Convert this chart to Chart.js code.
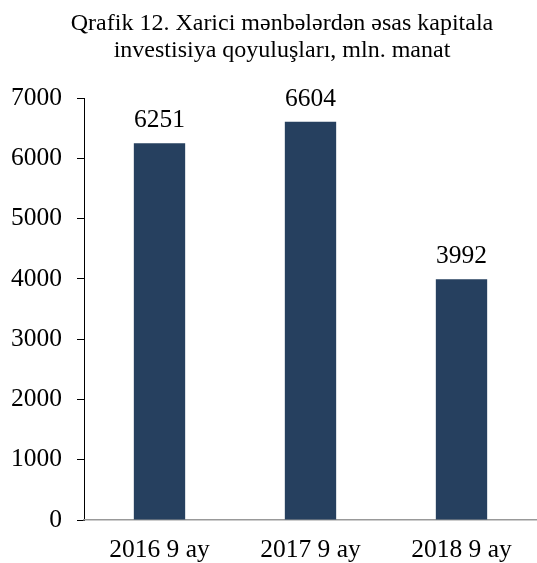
<!DOCTYPE html>
<html><head><meta charset="utf-8">
<script src="https://cdn.jsdelivr.net/npm/chart.js@4/dist/chart.umd.min.js"></script>
<style>html,body{margin:0;padding:0;background:#fff}#wrap{width:537px;height:563px}</style>
</head><body><div id="wrap"><canvas id="c" width="537" height="563"></canvas></div>
<script>
const titleLines = ["Qrafik 12. Xarici mənbələrdən əsas kapitala", "investisiya qoyuluşları, mln. manat"];
const categories = ["2016 9 ay", "2017 9 ay", "2018 9 ay"];
const values = [6251, 6604, 3992];
const yTicks = [0, 1000, 2000, 3000, 4000, 5000, 6000, 7000];
const SERIF = "'Liberation Serif','Times New Roman',serif";

const labelPlugin = {
  id: 'barLabels',
  afterDatasetsDraw(chart) {
    const ctx = chart.ctx;
    const meta = chart.getDatasetMeta(0);
    ctx.save();
    ctx.font = "25.5px " + SERIF;
    ctx.fillStyle = '#000';
    ctx.textAlign = 'center';
    ctx.textBaseline = 'alphabetic';
    meta.data.forEach((bar, i) => {
      ctx.fillText(String(values[i]), bar.x, bar.y - 16);
    });
    ctx.restore();
  }
};

const titlePlugin = {
  id: 'twoLineTitle',
  afterDraw(chart) {
    const ctx = chart.ctx;
    ctx.save();
    ctx.font = "24px " + SERIF;
    ctx.fillStyle = '#000';
    ctx.textAlign = 'center';
    ctx.textBaseline = 'alphabetic';
    titleLines.forEach((t, i) => ctx.fillText(t, 282, 30 + i * 27));
    ctx.restore();
  }
};

new Chart(document.getElementById('c'), {
  type: 'bar',
  data: { labels: categories, datasets: [{ data: values, backgroundColor: '#26405F', categoryPercentage: 1, barPercentage: 0.34 }] },
  options: {
    responsive: false, animation: false,
    layout: { padding: { left: 0, right: 0, top: 98, bottom: 0 } },
    plugins: { legend: { display: false }, tooltip: { enabled: false }, title: { display: false } },
    scales: {
      y: {
        min: 0, max: 7000,
        afterBuildTicks(scale) { scale.ticks = yTicks.map(v => ({ value: v })); },
        afterFit(scale) { scale.width = 84; scale.paddingTop = 0; scale.paddingBottom = 0; },
        ticks: { color: '#000', font: { family: SERIF, size: 25.5 }, padding: 15, callback: v => String(v) },
        grid: { display: true, drawOnChartArea: false, drawTicks: true, tickLength: 7, color: '#000', lineWidth: 1 },
        border: { display: true, color: '#000', width: 1 }
      },
      x: {
        afterFit(scale) { scale.height = 43; scale.paddingLeft = 0; scale.paddingRight = 0; },
        ticks: { color: '#000', font: { family: SERIF, size: 25.5, lineHeight: 1 }, padding: 18, maxRotation: 0 },
        grid: { display: false, drawTicks: false },
        border: { display: true, color: '#999', width: 1.5 }
      }
    }
  },
  plugins: [labelPlugin, titlePlugin]
});
</script></body></html>
